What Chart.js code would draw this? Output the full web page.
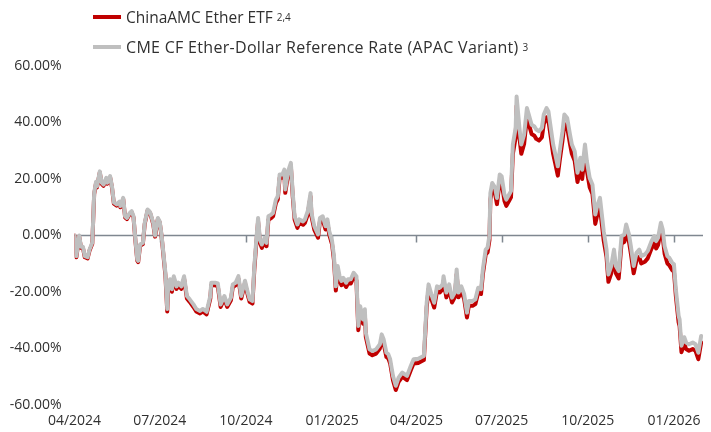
<!DOCTYPE html>
<html>
<head>
<meta charset="utf-8">
<script src="https://cdn.jsdelivr.net/npm/chart.js@4.4.1/dist/chart.umd.min.js"></script>
<style>
  body { margin: 0; background: #fff; }
  #wrap { position: relative; width: 711px; height: 432px; font-family: "Open Sans", sans-serif; color: #303030; }
  #chart { position: absolute; left: 0; top: 0; }
  .legend-row { position: absolute; left: 93px; height: 20px; display: flex; align-items: center; font-size: 15.5px; white-space: nowrap; }
  .legend-row .swatch { width: 28px; height: 4px; margin-right: 5px; }
  .legend-row sup { font-size: 10px; margin-left: 4px; letter-spacing: 0; }
  .legend-row.wide { font-size: 16px; letter-spacing: 0.3px; }
</style>
</head>
<body>
<div id="wrap">
  <canvas id="chart" width="711" height="432"></canvas>
  <div class="legend-row" style="top:7px"><span class="swatch" style="background:#C00000"></span>ChinaAMC Ether ETF<sup>2,4</sup></div>
  <div class="legend-row wide" style="top:37px"><span class="swatch" style="background:#BFBFBF"></span>CME CF Ether-Dollar Reference Rate (APAC Variant)<sup>3</sup></div>
</div>
<script>
// x = days since 30/04/2024, quarterly ticks
const tickDays = [0, 91, 183, 275, 365, 456, 548, 640];
const tickLabels = ["04/2024", "07/2024", "10/2024", "01/2025", "04/2025", "07/2025", "10/2025", "01/2026"];

const days = [0, 2, 5, 7, 9, 11, 14, 16, 19, 21, 23, 24, 27, 29, 31, 34, 35, 38, 40, 42, 45, 48, 49, 52, 54, 56, 59, 61, 63, 65, 67, 68, 70, 73, 75, 78, 80, 81, 84, 86, 89, 91, 93,
  97, 99, 100, 102, 104, 106, 109, 111, 114, 117, 120, 123, 127, 130, 134, 137, 141, 145, 146, 150, 153, 156, 160, 163, 167, 169, 172, 175, 178, 182, 185, 187, 190,
  192, 194, 196, 198, 200, 203, 205, 207, 210, 212, 215, 217, 219, 222, 224, 225, 228, 231, 233, 235, 238, 240, 244, 246, 249, 252, 253, 256, 260, 262, 265, 268, 270, 272, 275,
  277, 279, 281, 283, 285, 287, 290, 292, 295, 298, 301, 302, 303, 305, 308, 310, 311, 315, 318, 322, 326, 328, 330, 333, 335, 337, 340, 343, 346, 350, 355, 359, 362, 367, 373,
  376, 378, 381, 384, 387, 390, 393, 394, 397, 400, 403, 406, 408, 410, 413, 416, 419, 421, 425, 428, 431, 434, 436, 439, 441, 443,
  444, 446, 449, 451, 454, 456, 459, 461, 464, 466,
  468, 471, 472, 475, 477, 480, 483, 485, 488, 491, 493, 496, 499, 501, 504, 506, 508, 511, 513, 516, 518, 521, 523, 526, 529, 531, 534, 537, 540, 542, 545, 547, 550, 553, 556, 558, 561, 563, 565,
  568, 570, 573, 576, 578, 581, 584, 587, 589, 592, 594, 597, 600, 603, 605, 609, 612, 616, 619, 621, 623, 626, 628, 630, 633, 635, 638, 640,
  642, 645, 646, 648, 651, 653, 656, 660, 663, 666, 669];

// CME CF Ether-Dollar Reference Rate (APAC Variant), cumulative return %
const refReturns = [0, -7.3, 0, -4, -4, -7.3, -7.7, -5, -2.5, 15, 19, 17.4, 22.7, 18.7, 18, 20.4, 18.7, 21, 17.4, 11.7, 11, 12, 10.4, 13.3, 6.8, 6.2, 8, 8.6, 6.8, -1.4, -8.5, -9, -3.2, -2.6, 4.5, 9.2, 8.6, 8, 4.5, 0, 6.2, 5, 0,
  -13, -26, -18, -15.5, -19, -14.4, -18, -16.7, -18, -14.4, -21.4, -22.6, -24.4, -26, -26.7, -26, -27, -21.4, -16.7, -16.7, -17, -24.4, -21.4, -24.4, -22, -17.3, -16.7, -14.4, -21.4, -16, -20.2, -22.6, -23.2,
  -10.8, -2, 6.2, -1.4, -3.2, -0.8, -2.6, 6.8, 7.4, 8, 12.7, 13.9, 21.6, 21.6, 23.3, 16.3, 22.7, 25.7, 15, 6.8, 3.9, 5.7, 5, 5.7, 8.6, 15, 8, 3.3, 0.4, 6.2, 6.8, 3.3, 5.7, 1.5, -2,
  -7.3, -18, -10.8, -14.4, -16.1, -15, -16.7, -15.5, -15.5, -13.2, -14.4, -23.8, -32, -25, -29.7, -26.1, -34.4, -40.3, -40.9, -40.3, -38.5, -35, -36.7, -41.5, -42, -43.8, -49.7, -53.2, -50.3, -48.5, -49.7, -46.2, -43.8, -43.6, -42.6,
  -23.8, -17.3, -20.8, -23.8, -18, -18.5, -17.3, -14.4, -20.2, -17.3, -22, -20.2, -12, -20.2, -18, -20.8, -27.3, -23.2, -23.2, -22.6, -18.5, -19, -12, -5, -4.3, 0,
  15, 18.6, 17, 13.3, 21.6, 21, 14.5, 12.7, 14.5, 15.7,
  32.2, 38.1, 49.2, 38.1, 32.2, 35.7, 45.1, 42.8, 39.2, 38.6, 37.5, 36.9, 38.1, 42.8, 45.1, 43.9, 39.2, 32.2, 29.2, 24.5, 29.8, 36.9, 42.8, 41.6, 35.7, 32.2, 29.8, 22.2, 27.5, 23.3, 32.2, 26.3, 20.4, 18, 7.4, 10.4, 13.3, 7.4, 1.5,
  -5, -13.8, -10.8, -5, -10.8, -12.6, -0.2, 0.3, 3.9, 0.3, -3.8, -10.8, -6.1, -5, -7.3, -6.7, -5.5, -2, -0.2, -2, -0.8, 4.5, 2.1, -3.8, -7.3, -7.9, -9.6, -10.2,
  -19, -28.5, -29.7, -39, -36, -37.9, -38.5, -37.9, -38.5, -41.5, -35.6];

// ChinaAMC Ether ETF, cumulative return %
const etfReturns = [0, -7.7, -0.4, -4.4, -4.4, -7.7, -8.1, -5.4, -2.9, 14.6, 18.6, 17.0, 22.3, 18.3, 17.6, 20.0, 18.3, 20.6, 17.0, 11.3, 10.6, 11.6, 10.0, 12.9, 6.4, 5.8, 7.6, 8.2, 6.4, -1.8, -8.9, -9.4, -3.6, -3.0, 4.1, 8.8, 8.2, 7.6, 4.1, -0.4, 5.8, 4.6, -0.4,
  -13.9, -26.9, -18.9, -16.4, -19.9, -15.3, -18.9, -17.6, -18.9, -15.3, -22.3, -23.5, -25.3, -26.9, -27.6, -26.9, -27.9, -22.3, -17.6, -17.6, -17.9, -25.3, -22.3, -25.3, -22.9, -18.2, -17.6, -15.3, -22.3, -16.9, -21.1, -23.5, -24.1,
  -12.0, -3.2, 5.0, -2.6, -4.4, -2.0, -3.8, 5.6, 6.2, 6.8, 11.5, 12.7, 20.4, 20.4, 22.1, 15.1, 21.5, 24.5, 13.8, 5.6, 2.7, 4.5, 3.8, 4.5, 7.4, 13.8, 6.8, 2.1, -0.8, 5.0, 5.6, 2.1, 4.5, 0.3, -3.2,
  -8.8, -19.5, -12.3, -15.9, -17.6, -16.5, -18.2, -17.0, -17.0, -14.7, -15.9, -25.3, -33.5, -26.5, -31.2, -27.6, -35.9, -41.8, -42.4, -41.8, -40.0, -36.5, -38.2, -43.0, -43.5, -45.3, -51.2, -54.7, -51.8, -50.0, -51.2, -47.7, -45.3, -45.1, -44.1,
  -25.5, -19.0, -22.5, -25.5, -19.7, -20.2, -19.0, -16.1, -21.9, -19.0, -23.7, -21.9, -13.7, -21.9, -19.7, -22.5, -29.0, -24.9, -24.9, -24.3, -20.2, -20.7, -13.7, -6.7, -6.0, -1.7,
  12.8, 16.4, 14.8, 11.1, 19.4, 18.8, 12.3, 10.5, 12.3, 13.5,
  28.9, 34.8, 45.9, 34.8, 28.9, 32.4, 41.8, 39.5, 35.9, 35.3, 34.2, 33.6, 34.8, 39.5, 41.8, 40.6, 35.9, 28.9, 25.9, 21.2, 26.5, 33.6, 39.5, 38.3, 32.4, 28.9, 26.5, 18.9, 24.2, 20.0, 28.9, 23.0, 17.1, 14.7, 4.1, 7.1, 10.0, 4.1, -1.8,
  -7.6, -16.4, -13.4, -7.6, -13.4, -15.2, -2.8, -2.3, 1.3, -2.3, -6.4, -13.4, -8.7, -7.6, -9.9, -9.3, -8.1, -4.6, -2.8, -4.6, -3.4, 1.9, -0.5, -6.4, -9.9, -10.5, -12.2, -12.8,
  -21.3, -30.8, -32.0, -41.3, -38.3, -40.2, -40.8, -40.2, -40.8, -43.8, -37.9];

// zero line with small quarterly tick marks, drawn under the lines
const zeroAxis = {
  id: 'zeroAxis',
  beforeDatasetsDraw(chart) {
    const { ctx, chartArea } = chart;
    const x = chart.scales.x, y = chart.scales.y;
    const y0 = y.getPixelForValue(0);
    ctx.save();
    ctx.strokeStyle = '#7f8790';
    ctx.lineWidth = 1.5;
    ctx.beginPath();
    ctx.moveTo(chartArea.left, y0);
    ctx.lineTo(chartArea.right, y0);
    tickDays.slice(1).forEach(d => {
      const px = Math.round(x.getPixelForValue(d)) + 0.5;
      ctx.moveTo(px, y0);
      ctx.lineTo(px, y0 + 7);
    });
    ctx.stroke();
    ctx.restore();
  }
};

const font = { family: '"Open Sans", sans-serif', size: 14 };

new Chart(document.getElementById('chart'), {
  type: 'line',
  data: {
    datasets: [
      {
        label: 'ChinaAMC Ether ETF',
        data: days.map((d, i) => ({ x: d, y: etfReturns[i] })),
        borderColor: '#C00000',
        borderWidth: 4,
        borderJoinStyle: 'round',
        borderCapStyle: 'round',
        pointRadius: 0,
        order: 2
      },
      {
        label: 'CME CF Ether-Dollar Reference Rate (APAC Variant)',
        data: days.map((d, i) => ({ x: d, y: refReturns[i] })),
        borderColor: '#BFBFBF',
        borderWidth: 4,
        borderJoinStyle: 'round',
        borderCapStyle: 'round',
        pointRadius: 0,
        order: 1
      }
    ]
  },
  options: {
    responsive: false,
    animation: false,
    layout: { padding: { top: 66, right: 8, left: 0, bottom: 0 } },
    plugins: { legend: { display: false }, tooltip: { enabled: false } },
    scales: {
      x: {
        type: 'linear',
        min: 0,
        max: 671,
        afterFit: s => { s.height = 27; },
        afterBuildTicks: s => { s.ticks = tickDays.map(v => ({ value: v })); },
        grid: { display: false, drawTicks: false },
        border: { display: false },
        ticks: {
          font, color: '#303030', padding: 8, maxRotation: 0, autoSkip: false,
          callback: v => tickLabels[tickDays.indexOf(v)]
        }
      },
      y: {
        min: -60,
        max: 60,
        afterFit: s => { s.width = 74.5; },
        grid: { display: false, drawTicks: false },
        border: { display: false },
        ticks: {
          font, color: '#303030', padding: 13, stepSize: 20,
          callback: v => v.toFixed(2) + '%'
        }
      }
    }
  },
  plugins: [zeroAxis]
});
</script>
</body>
</html>
